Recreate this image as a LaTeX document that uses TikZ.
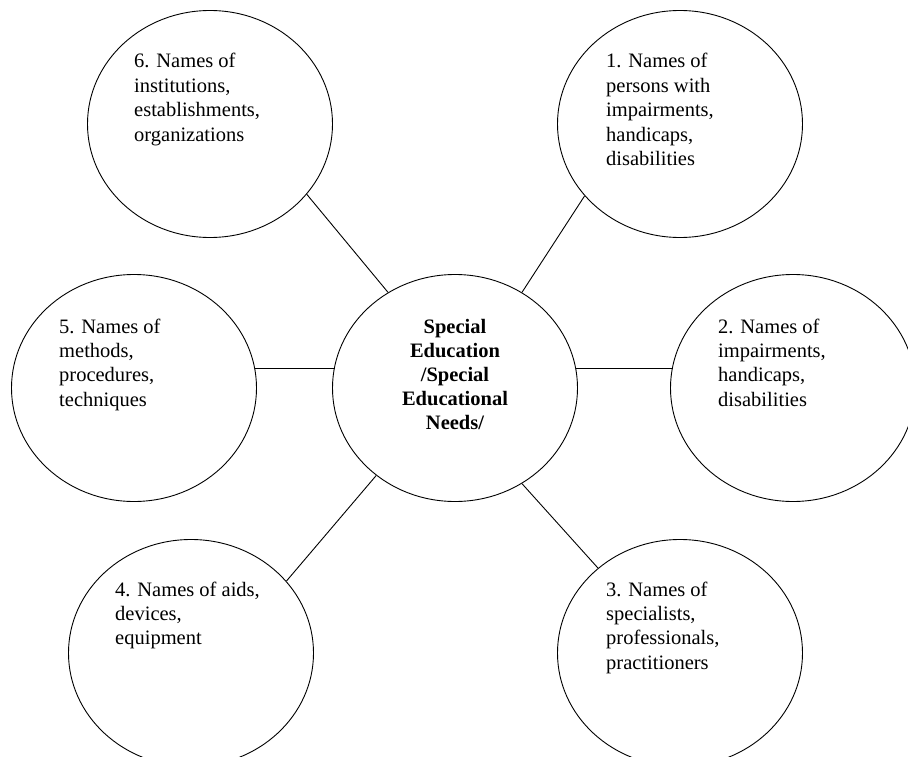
\documentclass[tikz,border=0pt]{standalone}
\usepackage{fontspec}
\setmainfont{Liberation Serif}
\usetikzlibrary{shapes.geometric}
\begin{document}
\begin{tikzpicture}[x=1pt,y=-1pt,
  bubble/.style={draw, ellipse, minimum width=245pt, minimum height=227pt, inner sep=0pt, line width=0.9pt},
  link/.style={line width=0.9pt},
  lbl/.style={anchor=base west, inner sep=0pt, font=\fontsize{20.5}{24.4}\selectfont},
  clbl/.style={anchor=base, inner sep=0pt, font=\fontsize{20.5}{24.2}\selectfont\bfseries}]
\useasboundingbox (0,0) rectangle (908,757);
\clip (0,0) rectangle (908,757);
% bubbles
\node[bubble] (c)  at (455,388) {};
\node[bubble] (e6) at (210,124) {};
\node[bubble] (e1) at (680,124) {};
\node[bubble] (e5) at (134,388) {};
\node[bubble] (e2) at (793,388) {};
\node[bubble] (e4) at (191,653) {};
\node[bubble] (e3) at (680,653) {};
% connectors
\draw[link] (c.125) -- (e6.-36);
\draw[link] (c.55) -- (e1.-143);
\draw[link] (c.171) -- (e5.9);
\draw[link] (c.9) -- (e2.171);
\draw[link] (c.-132) -- (e4.37);
\draw[link] (c.-55) -- (e3.134);
% labels
\node[clbl] (tc) at (455,333) {\begin{tabular}[t]{@{}c@{}}Special\\Education\\/Special\\Educational\\Needs/\end{tabular}};
\node[lbl] (t6) at (134,68) {\begin{tabular}[t]{@{}l@{}}6. Names of\\institutions,\\establishments,\\organizations\end{tabular}};
\node[lbl] (t1) at (606,68) {\begin{tabular}[t]{@{}l@{}}1. Names of\\persons with\\impairments,\\handicaps,\\disabilities\end{tabular}};
\node[lbl] (t5) at (59,333) {\begin{tabular}[t]{@{}l@{}}5. Names of\\methods,\\procedures,\\techniques\end{tabular}};
\node[lbl] (t2) at (718,333) {\begin{tabular}[t]{@{}l@{}}2. Names of\\impairments,\\handicaps,\\disabilities\end{tabular}};
\node[lbl] (t4) at (115,596) {\begin{tabular}[t]{@{}l@{}}4. Names of aids,\\devices,\\equipment\end{tabular}};
\node[lbl] (t3) at (606,596) {\begin{tabular}[t]{@{}l@{}}3. Names of\\specialists,\\professionals,\\practitioners\end{tabular}};
\end{tikzpicture}
\end{document}
